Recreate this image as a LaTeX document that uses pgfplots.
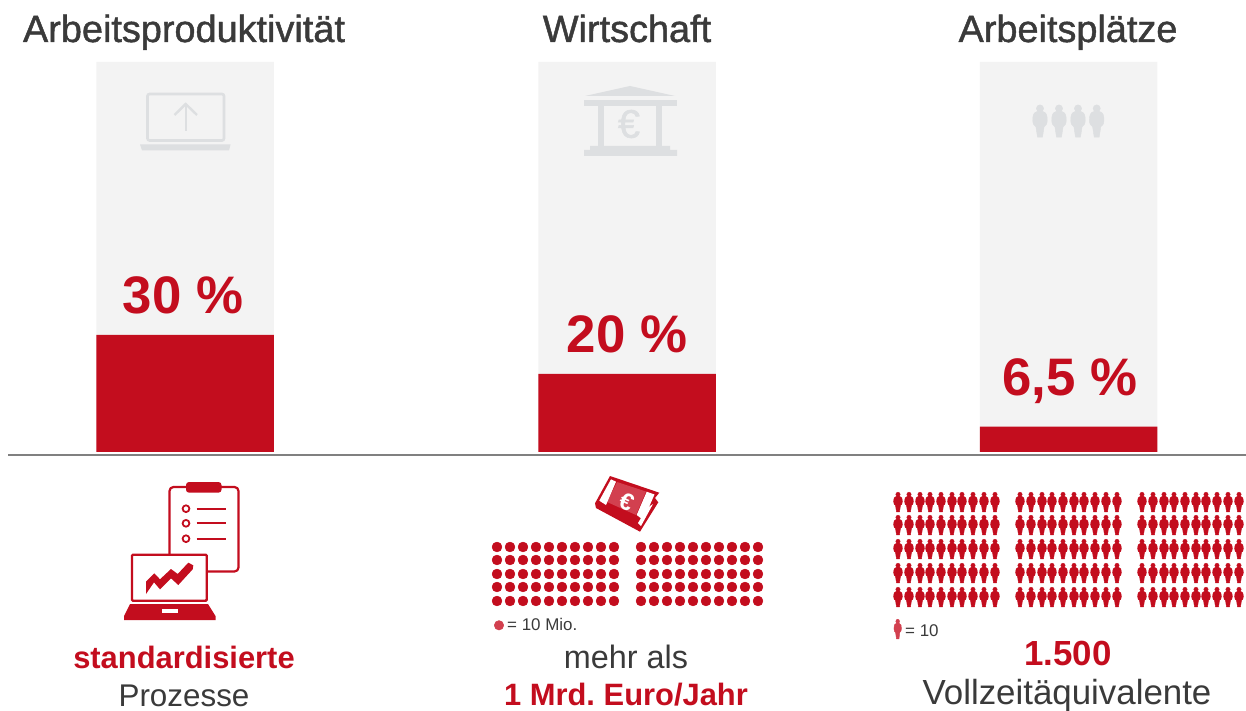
\documentclass[border=0pt]{standalone}
\usepackage{fontspec}
\setmainfont{Liberation Sans}
\newfontface\medium{Liberation Sans}[FakeBold=1.2]
\usepackage{pgfplots}
\pgfplotsset{compat=1.18}

\definecolor{rot}{HTML}{C30D1E}
\definecolor{rothell}{HTML}{D2404F}
\definecolor{hg}{HTML}{F3F3F3}
\definecolor{icon}{HTML}{DDDFE1}
\definecolor{txt}{HTML}{3A3A3A}
\definecolor{linie}{HTML}{808080}

\newcommand{\fs}[1]{\fontsize{#1}{#1}\selectfont}
\frenchspacing

% person pictogram, about 20bp high
\pgfdeclareplotmark{person}{%
  \fill (0,7.6bp) circle (2.2bp);
  \fill (-1.5bp,5.8bp) .. controls (-3.9bp,5.4bp) and (-4.4bp,3.4bp) .. (-4.4bp,0.5bp)
    .. controls (-4.4bp,-2bp) and (-3.4bp,-3bp) .. (-2.5bp,-3.4bp)
    -- (-1.5bp,-9.8bp) -- (1.5bp,-9.8bp) -- (2.5bp,-3.4bp)
    .. controls (3.4bp,-3bp) and (4.4bp,-2bp) .. (4.4bp,0.5bp)
    .. controls (4.4bp,3.4bp) and (3.9bp,5.4bp) .. (1.5bp,5.8bp) -- cycle;
}

\begin{document}
\begin{tikzpicture}
\useasboundingbox (0,0) rectangle (1246bp,711bp);
% bars, y in percent
\begin{axis}[
  at={(0,0)}, anchor=south west, scale only axis, width=1246bp, height=711bp,
  hide axis,
  xmin=0, xmax=1246, ymin=-66.41, ymax=115.9,
  ybar, bar width=177.5bp, bar shift=0pt,
]
\addplot[fill=hg, draw=none] coordinates {(185,100) (627,100) (1068.5,100)};
\addplot[fill=rot, draw=none] coordinates {(185,30) (627,20) (1068.5,6.5)};
\end{axis}

% everything else in pixel coordinates of the reference
\begin{axis}[
  at={(0,0)}, anchor=south west, scale only axis, width=1246bp, height=711bp,
  hide axis,
  xmin=0, xmax=1246, ymin=0, ymax=711, y dir=reverse,
]
\addplot[draw=linie, line width=2bp] coordinates {(8,455) (1246,455)};

% laptop icon
\addplot[draw=icon, line width=2.6bp, rounded corners=2bp] coordinates {(147.5,94) (224,94) (224,140.5) (147.5,140.5)} --cycle;
\addplot[fill=icon, draw=none] coordinates {(140,144.5) (230.5,144.5) (229,150.5) (142,150.5)} --cycle;
\addplot[draw=icon, line width=2.4bp] coordinates {(185.7,131) (185.7,104)};
\addplot[draw=icon, line width=2.4bp] coordinates {(174.5,115) (185.7,104) (197,115)};

% bank icon
\addplot[fill=icon, draw=none] coordinates {(585,96) (630,86) (675,96)} --cycle;
\addplot[fill=icon, draw=none] coordinates {(584,100.5) (677,100.5) (677,105.7) (584,105.7)} --cycle;
\addplot[fill=icon, draw=none] coordinates {(598.3,105.7) (604.3,105.7) (604.3,147) (598.3,147)} --cycle;
\addplot[fill=icon, draw=none] coordinates {(656,105.7) (662,105.7) (662,147) (656,147)} --cycle;
\addplot[fill=icon, draw=none] coordinates {(590,146) (670,146) (670,150) (677,150) (677,156) (584,156) (584,150) (590,150)} --cycle;
\node[text=icon, font=\medium\fs{40}] at (axis cs:629,124) {€};

% grey people
\addplot[only marks, mark=person, color=icon, mark options={scale=1.65}]
  coordinates {(1040,121) (1059,121) (1078,121) (1096.7,121)};

% clipboard and laptop
\addplot[draw=rot, line width=2.2bp, rounded corners=4bp] coordinates {(169.5,487) (238.5,487) (238.5,571.5) (169.5,571.5)} --cycle;
\addplot[fill=rot, draw=none, rounded corners=3bp] coordinates {(186,482) (221.5,482) (221.5,492.7) (186,492.7)} --cycle;
\addplot[only marks, mark=*, mark size=3.4pt, color=rot, mark options={fill=white, line width=1.8bp}]
  coordinates {(186,508.7) (186,523.3) (186,538.7)};
\addplot[draw=rot, line width=1.8bp] coordinates {(196.7,508.7) (226,508.7)};
\addplot[draw=rot, line width=1.8bp] coordinates {(196.7,523.3) (226,523.3)};
\addplot[draw=rot, line width=1.8bp] coordinates {(196.7,538.7) (226,538.7)};
\addplot[fill=white, draw=rot, line width=2.4bp, rounded corners=1bp] coordinates {(132,554.7) (206.7,554.7) (206.7,600.7) (132,600.7)} --cycle;
\addplot[fill=rot, draw=none] coordinates {(130,604) (208,604) (215.5,616) (215.5,620) (124,620) (124,616)} --cycle;
\addplot[fill=white, draw=none] coordinates {(161.7,608.7) (178.3,608.7) (178.3,612.7) (161.7,612.7)} --cycle;
\addplot[fill=rot, draw=none] coordinates {(146,581.7) (154.3,573.3) (160,579.3) (171,569) (177.7,574) (188.3,562.7) (193.3,565.3) (192.7,569.3) (178.3,585) (171,578.3) (160,589.3) (154,582.3) (146,594)} --cycle;

% money
\addplot[fill=rot, draw=none] coordinates {(610,476) (659.3,492.7) (655,498) (658.3,502.3) (640,531.7) (596,508) (595,503.3)} --cycle;
\addplot[fill=rothell, draw=none] coordinates {(617,482) (646,491.5) (636,515) (607,502)} --cycle;
\addplot[fill=white, draw=none] coordinates {(611,479.3) (616,481.7) (606,505) (599.3,500.7)} --cycle;
\addplot[fill=white, draw=none] coordinates {(646.7,491.7) (654.5,494.5) (643.3,520) (636.7,515)} --cycle;
\addplot[fill=white, draw=none] coordinates {(653,504) (641,526) (638,523) (647,508)} --cycle;
\node[text=white, font=\bfseries\fs{24}, rotate=-25] at (axis cs:627,501.5) {€};

% euro dots, one dot = 10 Mio.
\addplot[only marks, mark=*, mark size=5pt, color=rot] coordinates {
(497,547) (510,547) (523,547) (536,547) (549,547) (562,547) (575,547) (588,547) (601,547) (614,547)
(497,560) (510,560) (523,560) (536,560) (549,560) (562,560) (575,560) (588,560) (601,560) (614,560)
(497,574) (510,574) (523,574) (536,574) (549,574) (562,574) (575,574) (588,574) (601,574) (614,574)
(497,587) (510,587) (523,587) (536,587) (549,587) (562,587) (575,587) (588,587) (601,587) (614,587)
(497,601) (510,601) (523,601) (536,601) (549,601) (562,601) (575,601) (588,601) (601,601) (614,601)
(641,547) (654,547) (667,547) (680,547) (693,547) (706,547) (719,547) (732,547) (745,547) (758,547)
(641,560) (654,560) (667,560) (680,560) (693,560) (706,560) (719,560) (732,560) (745,560) (758,560)
(641,574) (654,574) (667,574) (680,574) (693,574) (706,574) (719,574) (732,574) (745,574) (758,574)
(641,587) (654,587) (667,587) (680,587) (693,587) (706,587) (719,587) (732,587) (745,587) (758,587)
(641,601) (654,601) (667,601) (680,601) (693,601) (706,601) (719,601) (732,601) (745,601) (758,601)
};
\addplot[only marks, mark=*, mark size=4.8pt, color=rothell] coordinates {(499,625.3)};

% people, one figure = 10
\addplot[only marks, mark=person, color=rot] coordinates {
(898,502) (909,502) (920,502) (930,502) (941,502) (952,502) (962,502) (973,502) (984,502) (995,502)
(898,525) (909,525) (920,525) (930,525) (941,525) (952,525) (962,525) (973,525) (984,525) (995,525)
(898,549) (909,549) (920,549) (930,549) (941,549) (952,549) (962,549) (973,549) (984,549) (995,549)
(898,573) (909,573) (920,573) (930,573) (941,573) (952,573) (962,573) (973,573) (984,573) (995,573)
(898,597) (909,597) (920,597) (930,597) (941,597) (952,597) (962,597) (973,597) (984,597) (995,597)
(1020,502) (1031,502) (1042,502) (1052,502) (1063,502) (1074,502) (1084,502) (1095,502) (1106,502) (1117,502)
(1020,525) (1031,525) (1042,525) (1052,525) (1063,525) (1074,525) (1084,525) (1095,525) (1106,525) (1117,525)
(1020,549) (1031,549) (1042,549) (1052,549) (1063,549) (1074,549) (1084,549) (1095,549) (1106,549) (1117,549)
(1020,573) (1031,573) (1042,573) (1052,573) (1063,573) (1074,573) (1084,573) (1095,573) (1106,573) (1117,573)
(1020,597) (1031,597) (1042,597) (1052,597) (1063,597) (1074,597) (1084,597) (1095,597) (1106,597) (1117,597)
(1142,502) (1153,502) (1164,502) (1174,502) (1185,502) (1196,502) (1206,502) (1217,502) (1228,502) (1239,502)
(1142,525) (1153,525) (1164,525) (1174,525) (1185,525) (1196,525) (1206,525) (1217,525) (1228,525) (1239,525)
(1142,549) (1153,549) (1164,549) (1174,549) (1185,549) (1196,549) (1206,549) (1217,549) (1228,549) (1239,549)
(1142,573) (1153,573) (1164,573) (1174,573) (1185,573) (1196,573) (1206,573) (1217,573) (1228,573) (1239,573)
(1142,597) (1153,597) (1164,597) (1174,597) (1185,597) (1196,597) (1206,597) (1217,597) (1228,597) (1239,597)
};
\addplot[only marks, mark=person, color=rothell, mark options={xscale=0.85}] coordinates {(897.7,629)};

% texts
\node[text=txt, font=\medium\fs{38}, anchor=base] at (axis cs:184,42) {Arbeitsproduktivität};
\node[text=txt, font=\medium\fs{38}, anchor=base] at (axis cs:627,42) {Wirtschaft};
\node[text=txt, font=\medium\fs{38}, anchor=base] at (axis cs:1068,42) {Arbeitsplätze};
\node[text=rot, font=\bfseries\fs{53}, anchor=base] at (axis cs:183,313) {30 \%};
\node[text=rot, font=\bfseries\fs{53}, anchor=base] at (axis cs:627,352) {20 \%};
\node[text=rot, font=\bfseries\fs{53}, anchor=base] at (axis cs:1070,395) {6,5 \%};
\node[text=rot, font=\bfseries\fs{31}, anchor=base] at (axis cs:184,668) {standardisierte};
\node[text=txt, font=\fs{31.5}, anchor=base, inner sep=0pt] at (axis cs:184,706) {Prozesse};
\node[text=txt, font=\fs{32.5}, anchor=base] at (axis cs:626,668) {mehr als};
\node[text=rot, font=\bfseries\fs{31}, anchor=base, inner sep=0pt] at (axis cs:626,705) {1 Mrd. Euro/Jahr};
\node[text=rot, font=\bfseries\fs{35}, anchor=base] at (axis cs:1068,665) {1.500};
\node[text=txt, font=\fs{35}, anchor=base, inner sep=0pt] at (axis cs:1067,704) {Vollzeitäquivalente};
\node[text=txt, font=\fs{17}, anchor=base west, inner sep=0pt] at (axis cs:507,630) {= 10 Mio.};
\node[text=txt, font=\fs{17}, anchor=base west, inner sep=0pt] at (axis cs:905,636) {= 10};
\end{axis}
\end{tikzpicture}
\end{document}
